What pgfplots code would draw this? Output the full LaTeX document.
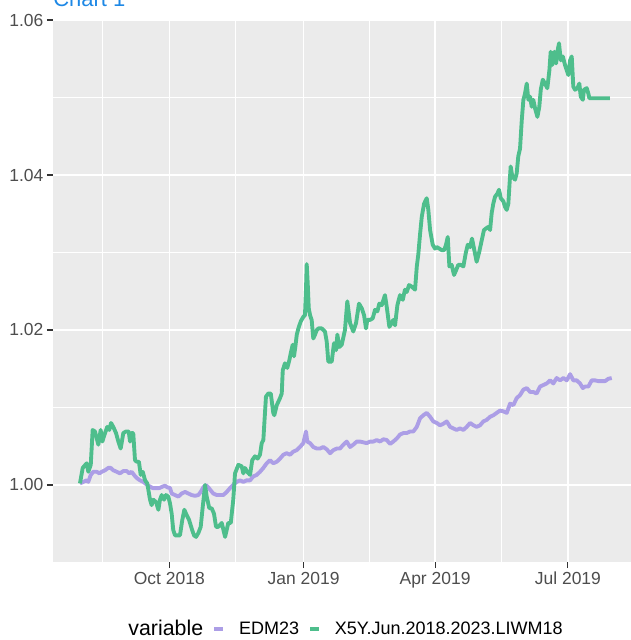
\documentclass[border=0pt]{standalone}
\usepackage{fontspec}
\setmainfont{Liberation Sans}
\usepackage{pgfplots}
\pgfplotsset{compat=1.18}
\definecolor{edm}{RGB}{172,158,230}
\definecolor{liwm}{RGB}{78,190,140}
\definecolor{panel}{RGB}{235,235,235}
\definecolor{tickgray}{RGB}{77,77,77}
\definecolor{titleblue}{RGB}{30,136,229}
\begin{document}
\begin{tikzpicture}
\begin{axis}[
  at={(39.75pt,58.5pt)}, anchor=south west,
  scale only axis, width=433.5pt, height=406.5pt,
  xmin=-79.66, xmax=316.2, ymin=0.99006, ymax=1.06,
  axis background/.style={fill=panel},
  axis line style={draw=none},
  tick pos=left, tick align=outside,
  major tick length=4.5pt, minor tick length=0pt,
  tick style={draw=black!80, line width=0.8pt},
  grid=both,
  major grid style={white, line width=1.1pt},
  minor grid style={white, line width=0.55pt},
  xtick={0,92,182,273},
  xticklabels={Oct 2018,Jan 2019,Apr 2019,Jul 2019},
  minor xtick={-46,45.5,137,227.5},
  ytick={1.00,1.02,1.04,1.06},
  yticklabels={1.00,1.02,1.04,1.06},
  minor ytick={1.01,1.03,1.05},
  /pgf/number format/assume math mode=true,
  ticklabel style={font=\fontsize{13.1}{15}\selectfont, text=tickgray, inner sep=0pt},
  yticklabel style={xshift=-2.5pt},
  xticklabel style={yshift=-3pt},
  legend columns=-1,
  legend style={at={(axis description cs:0.8824,-0.1237)}, anchor=east,
    draw=none, fill=none, inner sep=0pt,
    font=\fontsize{13.5}{16}\selectfont,
    nodes={inner sep=0pt},
    /tikz/every odd column/.append style={column sep=10.5pt},
    /tikz/every even column/.append style={column sep=7pt}},
  legend image code/.code={\draw[#1] (0pt,0pt) -- (6.5pt,0pt);},
]
\addlegendimage{empty legend}
\addlegendentry{\fontsize{16}{19}\selectfont variable\hspace{4.5pt}}
\addplot[edm, line width=2.9pt, line join=round] coordinates {
(-61.2,1.0002) (-58.9,1.0004) (-56.6,1.0006) (-55.5,1.0004) (-53.8,1.0013)
(-52.1,1.0017) (-49.7,1.0017) (-47.9,1.0015) (-46.3,1.0017) (-44.0,1.0019)
(-41.8,1.0022) (-40.1,1.0022) (-38.4,1.0019) (-36.0,1.0017) (-33.8,1.0015)
(-31.5,1.0018) (-29.2,1.0018) (-27.4,1.0015) (-25.8,1.0017) (-24.2,1.0013)
(-22.3,1.0009) (-20.1,1.0006) (-17.8,1.0004) (-15.1,1.0000) (-13.2,0.9998)
(-11.4,0.9996) (-9.1,0.9996) (-6.8,0.9996) (-4.5,0.9998) (-2.9,0.9999)
(-1.4,0.9997) (0.5,0.9996) (1.6,0.9989) (3.9,0.9987) (6.2,0.9985)
(8.5,0.9989) (10.8,0.9991) (13.0,0.9989) (15.3,0.9987) (17.6,0.9986)
(19.9,0.9987) (21.5,0.9991) (23.3,0.9997) (25.1,1.0000) (26.7,0.9997)
(27.9,0.9994) (30.1,0.9989) (32.5,0.9987) (34.7,0.9987) (37.0,0.9987)
(39.3,0.9991) (41.6,0.9996) (43.8,1.0000) (46.2,1.0004) (48.4,1.0006)
(50.7,1.0004) (53.0,1.0006) (55.3,1.0006) (57.5,1.0011) (59.9,1.0013)
(62.1,1.0017) (64.4,1.0022) (66.7,1.0028) (69.0,1.0032) (71.2,1.0028)
(73.6,1.0030) (75.8,1.0034) (78.1,1.0039) (80.4,1.0041) (82.7,1.0039)
(84.9,1.0043) (87.3,1.0045) (89.5,1.0049) (91.8,1.0054) (93.6,1.0069)
(94.5,1.0056) (96.4,1.0054) (98.6,1.0049) (101.0,1.0047) (103.2,1.0047)
(105.5,1.0049) (107.8,1.0046) (110.1,1.0041) (112.4,1.0045) (114.7,1.0047)
(116.9,1.0047) (119.2,1.0052) (121.5,1.0056) (123.8,1.0049) (126.0,1.0052)
(128.4,1.0056) (130.6,1.0056) (132.9,1.0055) (135.2,1.0054) (137.5,1.0056)
(139.7,1.0056) (142.1,1.0058) (144.3,1.0056) (146.6,1.0059) (148.9,1.0058)
(151.2,1.0053) (153.4,1.0056) (155.8,1.0060) (158.0,1.0065) (160.3,1.0067)
(162.6,1.0067) (164.9,1.0069) (167.1,1.0069) (169.5,1.0075) (171.7,1.0086)
(174.0,1.0090) (176.3,1.0093) (178.6,1.0088) (180.8,1.0082) (183.2,1.0080)
(185.4,1.0077) (187.7,1.0079) (190.0,1.0082) (192.3,1.0075) (194.5,1.0073)
(196.8,1.0071) (199.1,1.0073) (201.4,1.0071) (203.7,1.0075) (206.0,1.0080)
(208.3,1.0077) (210.5,1.0075) (212.8,1.0077) (215.1,1.0082) (217.4,1.0084)
(219.7,1.0088) (222.0,1.0090) (224.2,1.0093) (226.5,1.0096) (228.8,1.0095)
(231.1,1.0093) (233.4,1.0105) (235.6,1.0103) (237.9,1.0112) (240.2,1.0116)
(242.5,1.0123) (244.8,1.0125) (247.1,1.0120) (249.3,1.0120) (251.6,1.0118)
(253.9,1.0127) (256.2,1.0129) (258.5,1.0131) (260.8,1.0135) (263.0,1.0131)
(265.3,1.0138) (267.6,1.0135) (269.9,1.0138) (272.2,1.0135) (274.5,1.0143)
(276.7,1.0135) (279.0,1.0135) (281.3,1.0131) (283.2,1.0125) (284.7,1.0127)
(287.0,1.0127) (289.3,1.0135) (291.6,1.0135) (293.8,1.0134) (296.2,1.0134)
(298.4,1.0134) (300.7,1.0137) (303.0,1.0138)
};
\addlegendentry{EDM23}
\addplot[liwm, line width=2.9pt, line join=round] coordinates {
(-61.2,1.0002) (-59.3,1.0022) (-56.6,1.0028) (-55.5,1.0017) (-53.8,1.0026)
(-52.5,1.0071) (-50.9,1.0069) (-48.6,1.0052) (-47.0,1.0071) (-45.9,1.0056)
(-44.0,1.0067) (-42.5,1.0075) (-41.1,1.0071) (-39.9,1.0080) (-38.4,1.0075)
(-36.5,1.0067) (-34.9,1.0056) (-33.3,1.0047) (-31.5,1.0067) (-29.7,1.0069)
(-27.8,1.0069) (-26.9,1.0056) (-25.8,1.0067) (-24.7,1.0067) (-23.5,1.0032)
(-22.3,1.0030) (-20.8,1.0030) (-19.6,1.0013) (-18.2,1.0017) (-16.6,1.0006)
(-15.1,1.0002) (-13.2,0.9981) (-12.1,0.9974) (-11.0,0.9981) (-9.1,0.9978)
(-7.5,0.9968) (-6.4,0.9981) (-5.2,0.9987) (-3.6,0.9981) (-2.3,0.9987)
(-0.7,0.9985) (0.5,0.9976) (1.6,0.9963) (2.7,0.9942) (3.9,0.9935)
(5.5,0.9935) (7.3,0.9935) (8.9,0.9955) (10.3,0.9968) (11.9,0.9961)
(13.5,0.9955) (15.3,0.9944) (16.9,0.9935) (18.3,0.9933) (19.9,0.9938)
(21.5,0.9946) (22.9,0.9972) (24.5,1.0000) (25.6,0.9985) (27.4,0.9970)
(29.0,0.9970) (30.6,0.9963) (32.0,0.9946) (33.6,0.9946) (35.9,0.9951)
(38.2,0.9933) (40.4,0.9951) (42.1,0.9951) (43.8,0.9981) (45.0,1.0015)
(47.3,1.0026) (49.6,1.0024) (50.7,1.0015) (51.8,1.0022) (53.4,1.0017)
(55.3,1.0013) (56.8,1.0032) (58.7,1.0037) (60.5,1.0034) (62.1,1.0039)
(63.3,1.0054) (64.4,1.0058) (65.1,1.0080) (66.2,1.0114) (67.8,1.0118)
(69.5,1.0118) (71.2,1.0093) (71.9,1.0090) (73.6,1.0103) (75.8,1.0112)
(77.0,1.0118) (77.7,1.0148) (79.2,1.0157) (80.8,1.0151) (82.2,1.0161)
(83.4,1.0172) (84.5,1.0181) (85.4,1.0166) (86.3,1.0178) (87.3,1.0194)
(88.4,1.0202) (90.0,1.0211) (91.8,1.0217) (92.9,1.0219) (93.6,1.0252)
(94.1,1.0285) (94.8,1.0260) (95.5,1.0228) (96.4,1.0219) (97.5,1.0213)
(98.6,1.0189) (99.8,1.0194) (101.0,1.0200) (102.1,1.0202) (104.4,1.0202)
(106.6,1.0198) (107.8,1.0185) (108.9,1.0159) (111.2,1.0159) (112.8,1.0183)
(114.2,1.0174) (115.1,1.0194) (116.4,1.0178) (118.1,1.0181) (120.3,1.0200)
(121.9,1.0237) (123.8,1.0209) (126.0,1.0198) (127.9,1.0209) (129.9,1.0234)
(131.8,1.0228) (133.4,1.0219) (134.7,1.0202) (135.6,1.0213) (137.5,1.0213)
(139.3,1.0215) (140.9,1.0226) (142.5,1.0224) (143.8,1.0234) (145.5,1.0232)
(147.7,1.0245) (148.9,1.0230) (150.7,1.0204) (152.3,1.0209) (153.4,1.0213)
(154.6,1.0206) (156.2,1.0232) (158.0,1.0245) (159.9,1.0239) (161.4,1.0252)
(162.6,1.0249) (164.2,1.0258) (166.0,1.0256) (168.3,1.0252) (169.5,1.0282)
(170.5,1.0297) (171.7,1.0323) (172.9,1.0346) (174.5,1.0363) (176.3,1.0370)
(177.4,1.0355) (178.6,1.0329) (180.4,1.0310) (182.0,1.0305) (183.2,1.0307)
(184.9,1.0305) (186.6,1.0303) (188.2,1.0303) (189.5,1.0310) (190.7,1.0320)
(191.8,1.0282) (193.4,1.0284) (195.0,1.0271) (196.4,1.0277) (197.9,1.0284)
(199.6,1.0284) (201.4,1.0282) (203.0,1.0299) (204.4,1.0310) (206.0,1.0307)
(207.3,1.0318) (208.7,1.0305) (210.5,1.0288) (212.3,1.0301) (214.0,1.0316)
(215.5,1.0329) (216.9,1.0331) (218.5,1.0333) (219.7,1.0329) (220.8,1.0351)
(221.9,1.0363) (223.1,1.0372) (224.7,1.0376) (225.8,1.0381) (227.0,1.0370)
(228.8,1.0366) (229.9,1.0359) (231.1,1.0355) (232.2,1.0363) (232.9,1.0385)
(233.8,1.0411) (234.9,1.0398) (236.8,1.0394) (237.9,1.0402) (239.0,1.0424)
(240.2,1.0434) (241.4,1.0471) (242.5,1.0497) (243.6,1.0505) (244.8,1.0518)
(245.9,1.0497) (247.1,1.0501) (248.2,1.0488) (249.3,1.0497) (250.5,1.0486)
(252.1,1.0475) (253.4,1.0488) (254.4,1.0510) (255.8,1.0523) (257.3,1.0518)
(258.9,1.0512) (260.3,1.0535) (261.2,1.0559) (262.3,1.0542) (263.7,1.0559)
(264.9,1.0544) (265.8,1.0559) (266.9,1.0570) (268.1,1.0548) (269.5,1.0553)
(271.0,1.0542) (272.2,1.0535) (273.3,1.0529) (274.5,1.0548) (275.6,1.0553)
(276.7,1.0514) (277.9,1.0510) (279.5,1.0512) (280.8,1.0518) (281.8,1.0501)
(283.2,1.0497) (284.0,1.0510) (285.9,1.0512) (287.0,1.0505) (287.7,1.0499)
(301.8,1.0499)
};
\addlegendentry{X5Y.Jun.2018.2023.LIWM18}
\end{axis}
\node[anchor=base west, inner sep=0pt, font=\fontsize{16.5}{20}\selectfont, text=titleblue] at (39.75pt,474.75pt) {Chart 1};
\pgfresetboundingbox
\path[use as bounding box] (0pt,0pt) rectangle (473.25pt,480pt);
\end{tikzpicture}
\end{document}
